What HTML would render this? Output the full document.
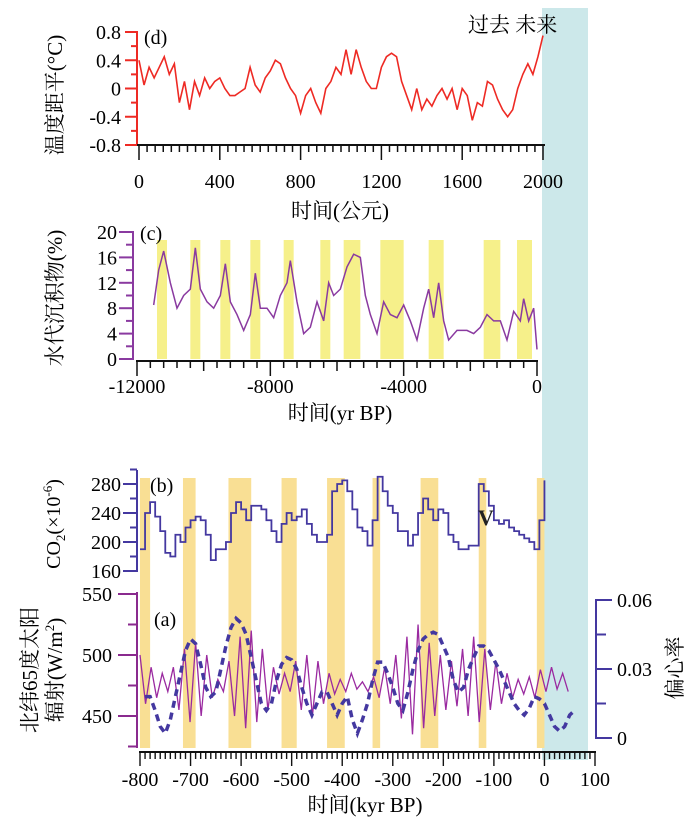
<!DOCTYPE html>
<html><head><meta charset="utf-8">
<style>
html,body{margin:0;padding:0;background:#fff;}
svg{display:block;}
text{font-family:"Liberation Serif","Noto Serif CJK SC",serif;}
</style></head>
<body>
<svg id="fig" width="700" height="820" viewBox="0 0 700 820" xmlns="http://www.w3.org/2000/svg">
<rect x="542" y="8" width="46" height="752" fill="#cce8ea"/>
<g id="gd"></g>
<g id="gc"></g>
<g id="gb"></g>
<g id="ga"></g>
<text x="468" y="32" font-size="21">过去 未来</text>
</svg>
<script>
// ---------- data ----------
const tempYears = [0,25,50,75,100,125,150,175,200,225,250,275,300,325,350,375,400,425,450,475,500,525,550,575,600,625,650,675,700,725,750,775,800,825,850,875,900,925,950,975,1000,1025,1050,1075,1100,1125,1150,1175,1200,1225,1250,1275,1300,1325,1350,1375,1400,1425,1450,1475,1500,1525,1550,1575,1600,1625,1650,1675,1700,1725,1750,1775,1800,1825,1850,1875,1900,1925,1950,1975,2000];
const tempValues = [0.4,0.05,0.3,0.15,0.3,0.45,0.2,0.35,-0.2,0.1,-0.3,0.1,-0.1,0.15,0.0,0.1,0.15,0.0,-0.1,-0.1,-0.05,0.0,0.3,0.05,-0.05,0.15,0.25,0.4,0.35,0.15,0.0,-0.1,-0.35,-0.1,0.0,-0.2,-0.35,0.0,0.1,0.3,0.2,0.55,0.2,0.55,0.3,0.1,0.0,0.0,0.3,0.45,0.5,0.45,0.1,-0.1,-0.3,0.0,-0.3,-0.15,-0.25,-0.1,0.0,-0.15,0.0,-0.3,0.0,-0.1,-0.45,-0.2,-0.25,0.1,0.05,-0.15,-0.3,-0.4,-0.3,0.0,0.2,0.35,0.2,0.45,0.75];
const tempTicks = [-0.8,-0.4,0,0.4,0.8];
const tempTickLabels = ["-0.8","-0.4","0","0.4","0.8"];
const yearTicks = [0,400,800,1200,1600,2000];

const sedYears = [-11500,-11350,-11200,-11000,-10800,-10600,-10400,-10250,-10100,-9900,-9700,-9500,-9350,-9200,-9000,-8800,-8600,-8450,-8300,-8100,-7900,-7700,-7500,-7400,-7200,-7000,-6800,-6600,-6400,-6250,-6100,-5900,-5700,-5500,-5300,-5150,-5000,-4800,-4600,-4400,-4200,-4000,-3800,-3600,-3400,-3250,-3100,-2950,-2800,-2650,-2400,-2100,-1900,-1700,-1500,-1300,-1100,-900,-700,-500,-400,-250,-100,0];
const sedValues = [8.5,14,17,12,8,10,11,17.5,11,9,8,10,15,9,7,4.5,7,13.5,8,8,6.5,10,12,15.5,9,4,5,9,6,12,10,11,14.5,16.5,16,10,7,4,9,7,6.5,8.5,6,3,8,11,6.5,12,6,3,4.5,4.5,4,5,7,6,6,3,7.5,6,9.5,6,8,1.5];
const sedBandStart = [-11400,-10400,-9500,-8600,-7600,-6500,-5800,-4700,-3250,-1600,-600];
const sedBandEnd   = [-11100,-10100,-9200,-8300,-7300,-6200,-5300,-4000,-2800,-1100,-150];
const sedTicks = [0,4,8,12,16,20];
const bpTicks = [-12000,-8000,-4000,0];

const co2Kyr = [-800,-790,-780,-770,-760,-750,-740,-730,-720,-710,-700,-690,-680,-670,-660,-650,-640,-630,-620,-610,-600,-590,-580,-570,-560,-550,-540,-530,-520,-510,-500,-490,-480,-470,-460,-450,-440,-430,-420,-410,-400,-390,-380,-370,-360,-350,-340,-330,-320,-310,-300,-290,-280,-270,-260,-250,-240,-230,-220,-210,-200,-190,-180,-170,-160,-150,-140,-130,-120,-110,-100,-90,-80,-70,-60,-50,-40,-30,-20,-10,0];
const co2Values = [190,240,255,235,215,185,180,210,200,220,230,235,230,210,175,190,190,200,240,255,245,230,250,250,245,230,215,200,225,240,230,235,245,225,210,200,200,210,270,280,285,270,245,220,215,195,230,290,270,250,240,215,215,195,210,240,260,245,230,245,240,210,200,190,190,195,195,280,270,250,230,225,230,220,215,210,205,200,190,230,285];
const co2Ticks = [160,200,240,280];
const glacBandStart = [-800,-715,-625,-520,-430,-340,-245,-130,-15];
const glacBandEnd   = [-780,-690,-580,-490,-395,-325,-210,-115,0];

const insolStartKyr = -800;
const insolStepKyr = 11;
const insolValues = [500,460,490,465,485,470,490,455,505,445,510,450,500,465,480,470,495,450,515,440,520,445,505,455,490,468,485,470,495,455,500,450,495,460,485,468,480,470,485,472,478,470,482,465,490,460,500,448,515,435,525,440,510,450,500,455,495,458,505,450,515,445,505,455,495,460,485,465,480,468,482,465,488,470,490,472,485,470];
const eccKyr = [-790,-780,-770,-760,-750,-740,-730,-720,-710,-700,-690,-680,-670,-660,-650,-640,-630,-620,-610,-600,-590,-580,-570,-560,-550,-540,-530,-520,-510,-500,-490,-480,-470,-460,-450,-440,-430,-420,-410,-400,-390,-380,-370,-360,-350,-340,-330,-320,-310,-300,-290,-280,-270,-260,-250,-240,-230,-220,-210,-200,-190,-180,-170,-160,-150,-140,-130,-120,-110,-100,-90,-80,-70,-60,-50,-40,-30,-20,-10,0,10,20,30,40,50,60];
const eccValues = [0.018,0.018,0.012,0.005,0.002,0.008,0.018,0.028,0.038,0.043,0.041,0.032,0.022,0.018,0.02,0.03,0.04,0.048,0.052,0.05,0.045,0.035,0.025,0.015,0.012,0.015,0.025,0.032,0.035,0.034,0.03,0.022,0.015,0.01,0.015,0.02,0.02,0.015,0.01,0.015,0.018,0.008,0.002,0.008,0.015,0.025,0.033,0.033,0.028,0.022,0.015,0.012,0.02,0.03,0.038,0.043,0.045,0.046,0.045,0.04,0.035,0.025,0.02,0.022,0.03,0.035,0.04,0.04,0.038,0.034,0.03,0.025,0.02,0.015,0.012,0.01,0.013,0.018,0.017,0.015,0.01,0.005,0.003,0.005,0.01,0.012];
const insolTicks = [450,500,550];
const eccTicks = [0,0.03,0.06];
const kyrTicks = [-800,-700,-600,-500,-400,-300,-200,-100,0,100];

// ---------- helpers ----------
const NS = "http://www.w3.org/2000/svg";
function mk(parent, tag, attrs){const e=document.createElementNS(NS,tag);for(const k in attrs)e.setAttribute(k,attrs[k]);parent.appendChild(e);return e;}
function lin(d0,d1,r0,r1){return v=>r0+(v-d0)*(r1-r0)/(d1-d0);}
function stepPts(xs,ys,fx,fy){let p=[];for(let i=0;i<xs.length;i++){if(i>0)p.push(fx(xs[i])+","+fy(ys[i-1]));p.push(fx(xs[i])+","+fy(ys[i]));}return p.join(" ");}

// ---------- panel d ----------
(function(){
const g=document.getElementById('gd');
const x=lin(0,2000,139,543), y=lin(-0.8,0.8,145,32), col="#ee2a24";
let pts=tempYears.map((t,i)=>x(t)+","+y(tempValues[i])).join(" ");
let l=mk(g,'polyline',{points:pts,fill:"none",stroke:col,"stroke-width":1.6});


let ax=mk(g,'line',{x1:137,y1:31,x2:137,y2:146,stroke:col,"stroke-width":2});


for(let v=-0.8;v<=0.801;v+=0.2){const yy=y(v);mk(g,'line',{x1:Math.abs(Math.round(v*10))%4===0?125:131,y1:yy,x2:137,y2:yy,stroke:col,"stroke-width":2});}
tempTicks.forEach((v,i)=>{const t=mk(g,'text',{x:121,y:y(v)+7,"font-size":20,"text-anchor":"end"});t.textContent=tempTickLabels[i];});
mk(g,'line',{x1:137,y1:145,x2:545,y2:145,stroke:"#111","stroke-width":2});
for(let t=0;t<=2000;t+=40){mk(g,'line',{x1:x(t),y1:145,x2:x(t),y2:t%400===0?160:152,stroke:"#111","stroke-width":1.5});}
yearTicks.forEach(v=>{const t=mk(g,'text',{x:x(v),y:188,"font-size":20,"text-anchor":"middle"});t.textContent=v;});
let tt=mk(g,'text',{x:340,y:218,"font-size":21,"text-anchor":"middle"});tt.textContent="时间(公元)";

let yt=mk(g,'text',{x:0,y:0,"font-size":21,"text-anchor":"middle",transform:"translate(62,95) rotate(-90)"});yt.textContent="温度距平(°C)";

let lb=mk(g,'text',{x:144,y:44,"font-size":20});lb.textContent="(d)";
})();

// ---------- panel c ----------
(function(){
const g=document.getElementById('gc');
const x=lin(-12000,0,137,537), y=lin(0,20,359,232), col="#8a3aa0";
sedBandStart.forEach((s,i)=>{const r=mk(g,'rect',{x:x(s),y:240,width:x(sedBandEnd[i])-x(s),height:119,fill:"#f6f08a"});});
let pts=sedYears.map((t,i)=>x(t)+","+y(sedValues[i])).join(" ");
let l=mk(g,'polyline',{points:pts,fill:"none",stroke:col,"stroke-width":1.5});

mk(g,'line',{x1:133,y1:231,x2:133,y2:360,stroke:col,"stroke-width":2});
for(let v=0;v<=20;v+=2){mk(g,'line',{x1:v%4===0?119:126,y1:y(v),x2:133,y2:y(v),stroke:col,"stroke-width":2});}
sedTicks.forEach(v=>{const t=mk(g,'text',{x:117,y:y(v)+7,"font-size":20,"text-anchor":"end"});t.textContent=v;});
mk(g,'line',{x1:136,y1:361,x2:538,y2:361,stroke:"#111","stroke-width":2});
for(let t=-12000;t<=0;t+=400){mk(g,'line',{x1:x(t),y1:361,x2:x(t),y2:t%4000===0?376:(t%2000===0?371:368),stroke:"#111","stroke-width":1.5});}
bpTicks.forEach(v=>{const t=mk(g,'text',{x:x(v),y:393,"font-size":20,"text-anchor":"middle"});t.textContent=v;});
let tt=mk(g,'text',{x:340,y:420,"font-size":21,"text-anchor":"middle"});tt.textContent="时间(yr BP)";

let yt=mk(g,'text',{x:0,y:0,"font-size":21,"text-anchor":"middle",transform:"translate(62,298) rotate(-90)"});yt.textContent="水代沉积物(%)";

let lb=mk(g,'text',{x:140,y:240,"font-size":20});lb.textContent="(c)";
})();

// ---------- shared kyr axis ----------
const xk=lin(-800,100,140,595);
// ---------- panel b ----------
(function(){
const g=document.getElementById('gb');
const y=lin(160,280,571,484), col="#4438a0";
glacBandStart.forEach((s,i)=>{const r=mk(g,'rect',{x:xk(s),y:478,width:xk(glacBandEnd[i])-xk(s),height:270,fill:"#f9df94"});});
let l=mk(g,'polyline',{points:stepPts(co2Kyr,co2Values,xk,y),fill:"none",stroke:col,"stroke-width":1.8});

mk(g,'line',{x1:137,y1:470,x2:137,y2:572,stroke:col,"stroke-width":2});
for(let v=160;v<=300;v+=20){mk(g,'line',{x1:v%40===0?123:130,y1:y(v),x2:137,y2:y(v),stroke:col,"stroke-width":2});}
co2Ticks.forEach(v=>{const t=mk(g,'text',{x:121,y:y(v)+7,"font-size":20,"text-anchor":"end"});t.textContent=v;});
let yt=mk(g,'text',{x:0,y:0,"font-size":20,"text-anchor":"middle",transform:"translate(60,524) rotate(-90)"});
yt.innerHTML='CO<tspan font-size="13" dy="5">2</tspan><tspan dy="-5">(×10</tspan><tspan font-size="13" dy="-8">-6</tspan><tspan dy="8">)</tspan>';

let lb=mk(g,'text',{x:150,y:492,"font-size":20});lb.textContent="(b)";
let v=mk(g,'text',{x:478,y:525,"font-size":22,"font-weight":"bold",fill:"#222"});v.textContent="V";
})();

// ---------- panel a ----------
(function(){
const g=document.getElementById('ga');
const y=lin(450,550,716,594), ye=lin(0,0.06,738,600), colL="#8a2a8e", colR="#4438a0";
const ik=insolValues.map((v,i)=>insolStartKyr+i*insolStepKyr);
let l=mk(g,'polyline',{points:ik.map((t,i)=>xk(t)+","+y(insolValues[i])).join(" "),fill:"none",stroke:"#9a2aa0","stroke-width":1.3});

let e=mk(g,'polyline',{points:eccKyr.map((t,i)=>xk(t)+","+ye(eccValues[i])).join(" "),fill:"none",stroke:colR,"stroke-width":3.5,"stroke-dasharray":"7 5"});

mk(g,'line',{x1:137,y1:592,x2:137,y2:748,stroke:colL,"stroke-width":2});
for(let v=425;v<=550;v+=25){mk(g,'line',{x1:v%50===0?118:128,y1:y(v),x2:137,y2:y(v),stroke:colL,"stroke-width":2});}
insolTicks.forEach(v=>{const t=mk(g,'text',{x:112,y:y(v)+7,"font-size":20,"text-anchor":"end"});t.textContent=v;});
mk(g,'line',{x1:596,y1:599,x2:596,y2:739,stroke:colR,"stroke-width":2});
for(let v=0;v<=0.0601;v+=0.015){mk(g,'line',{x1:596,y1:ye(v),x2:Math.round(v*1000)%30===0?612:606,y2:ye(v),stroke:colR,"stroke-width":2});}
eccTicks.forEach(v=>{const t=mk(g,'text',{x:617,y:ye(v)+7,"font-size":20});t.textContent=v;});
let yt=mk(g,'text',{x:0,y:0,"font-size":21,"text-anchor":"middle",transform:"translate(37,670) rotate(-90)"});yt.textContent="北纬65度太阳";

let yt2=mk(g,'text',{x:0,y:0,"font-size":21,"text-anchor":"middle",transform:"translate(62,670) rotate(-90)"});
yt2.innerHTML='辐射(W/m<tspan font-size="13" dy="-8">2</tspan><tspan dy="8">)</tspan>';

let rt=mk(g,'text',{x:0,y:0,"font-size":21,"text-anchor":"middle",transform:"translate(682,668) rotate(-90)"});rt.textContent="偏心率";

let lb=mk(g,'text',{x:154,y:626,"font-size":20});lb.textContent="(a)";
mk(g,'line',{x1:139,y1:752,x2:596,y2:752,stroke:"#111","stroke-width":2});
for(let t=-800;t<=100;t+=10){mk(g,'line',{x1:xk(t),y1:752,x2:xk(t),y2:t%100===0?766:759,stroke:"#111","stroke-width":1.4});}
kyrTicks.forEach(v=>{const t=mk(g,'text',{x:xk(v),y:786,"font-size":20,"text-anchor":"middle"});t.textContent=v;});
let tt=mk(g,'text',{x:365,y:812,"font-size":21,"text-anchor":"middle"});tt.textContent="时间(kyr BP)";

})();
</script>
</body></html>
